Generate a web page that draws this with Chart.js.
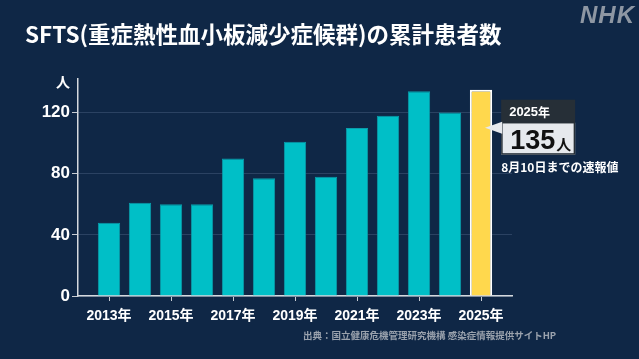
<!DOCTYPE html>
<html><head><meta charset="utf-8">
<script src="https://cdn.jsdelivr.net/npm/chart.js@4.4.1/dist/chart.umd.min.js"></script>
<style>
html,body{margin:0;padding:0;background:#0f2746;width:639px;height:359px;overflow:hidden;}
#wrap{position:relative;width:639px;height:359px;}
canvas{position:absolute;left:0;top:0;}
.t{position:absolute;white-space:nowrap;font-family:"Noto Sans CJK JP","Noto Sans",sans-serif;}
#title{left:25px;top:17px;font-size:22.5px;font-weight:700;color:#fff;line-height:32px;}
#nhk{right:4px;top:1px;font-family:"Liberation Sans",Arial,sans-serif;font-style:italic;font-weight:900;font-size:24px;color:#8e97a3;letter-spacing:1px;}
#src{left:303px;top:328px;font-size:9.5px;font-weight:700;color:#9aa2ad;}
</style></head>
<body><div id="wrap">
<canvas id="c" width="639" height="359"></canvas>
<div class="t" id="title">SFTS(重症熱性血小板減少症候群)の累計患者数</div>
<div class="t" id="nhk">NHK</div>
<div class="t" id="src">出典：国立健康危機管理研究機構 感染症情報提供サイトHP</div>
</div>
<script>
const years = [2013,2014,2015,2016,2017,2018,2019,2020,2021,2022,2023,2024,2025];
const patients = [48,61,60,60,90,77,101,78,110,118,134,120,135];
const xTickYears = [2013,2015,2017,2019,2021,2023,2025];
const yTickValues = [0,40,80,120];
const yUnit = '人';
const noteYear = '2025年';
const noteValue = '135';
const noteText = '8月10日までの速報値';

const teal = '#00bfc7', tealBorder = '#0a9cab', yellow = '#ffd84d';
const n = years.length;
const bg = years.map((y,i)=> i===n-1 ? yellow : teal);
const bc = years.map((y,i)=> i===n-1 ? '#ffffff' : tealBorder);
const bw = years.map((y,i)=> i===n-1 ? 2 : 1);

const calloutPlugin = {
  id:'callout',
  afterDatasetsDraw(chart){
    const ctx = chart.ctx;
    const yS = chart.scales.y, xS = chart.scales.x;
    ctx.save();
    ctx.fillStyle='#ffffff';
    ctx.font='700 14px "Noto Sans CJK JP"';
    ctx.textAlign='center'; ctx.textBaseline='middle';
    ctx.fillText(yUnit, xS.left-15, yS.top+3);
    const meta = chart.getDatasetMeta(0).data[n-1];
    const right = meta.x + meta.width/2;
    const bx = right + 9, by = meta.y + 10;
    const w = 74;
    ctx.fillStyle='#262f37';
    ctx.fillRect(bx, by, w, 23);
    ctx.fillStyle='#ffffff';
    ctx.font='700 13px "Liberation Sans","Noto Sans CJK JP"';
    ctx.textAlign='left';
    ctx.fillText(noteYear.replace('年',''), bx+8, by+12.5);
    const yw = ctx.measureText(noteYear.replace('年','')).width;
    ctx.font='700 12px "Noto Sans CJK JP"';
    ctx.fillText('年', bx+8+yw, by+12.5);
    const vy = by+23;
    ctx.fillStyle='#e6e9ed';
    ctx.fillRect(bx, vy, w, 32);
    ctx.strokeStyle='#262f37'; ctx.lineWidth=1.5;
    ctx.strokeRect(bx+0.75, vy, w-1.5, 31.25);
    ctx.beginPath();
    ctx.moveTo(bx+1, vy-1);
    ctx.lineTo(meta.x+4, vy+5);
    ctx.lineTo(bx+1, vy+11);
    ctx.closePath();
    ctx.fillStyle='#e6e9ed'; ctx.fill();
    ctx.fillStyle='#111111';
    ctx.font='700 27px "Liberation Sans",Arial';
    ctx.textBaseline='alphabetic';
    ctx.fillText(noteValue, bx+9, vy+26);
    const vw = ctx.measureText(noteValue).width;
    ctx.font='700 15px "Noto Sans CJK JP"';
    ctx.fillText(yUnit, bx+10+vw, vy+27);
    ctx.fillStyle='#ffffff';
    ctx.font='700 12px "Noto Sans CJK JP"';
    ctx.textBaseline='middle';
    ctx.fillText(noteText, bx, vy+45);
    ctx.restore();
  }
};

new Chart(document.getElementById('c'), {
  type:'bar',
  data:{datasets:[{
    data: years.map((y,i)=>({x:y, y:patients[i]})),
    backgroundColor:bg, borderColor:bc, borderWidth:bw,
    barPercentage:0.72, categoryPercentage:1.0
  }]},
  options:{
    responsive:false, animation:false,
    layout:{padding:{top:79,right:127,left:0,bottom:0}},
    plugins:{legend:{display:false},tooltip:{enabled:false}},
    scales:{
      x:{type:'linear',min:2012,max:2026,offset:false,
        afterFit(s){s.height=63;},
        afterBuildTicks(s){s.ticks = xTickYears.map(v=>({value:v}));},
        grid:{offset:false,drawOnChartArea:false,drawTicks:true,tickLength:5,tickColor:'#c8cdd3'},
        border:{color:'#d5d9de',width:1.5},
        ticks:{padding:7,color:'#ffffff',font:{family:'"Liberation Sans","Noto Sans CJK JP"',size:14,weight:'700'},
          callback:v=>v+'年',autoSkip:false,maxRotation:0}
      },
      y:{min:0,max:142,
        afterFit(s){s.width=78;},
        afterBuildTicks(s){s.ticks = yTickValues.map(v=>({value:v}));},
        grid:{color:'#2b4262',lineWidth:1,tickLength:6,tickColor:'#c8cdd3'},
        border:{color:'#d5d9de',width:1.5},
        ticks:{padding:2,color:'#ffffff',font:{family:'"Liberation Sans",Arial',size:17,weight:'700'}}
      }
    }
  },
  plugins:[calloutPlugin]
});
</script>
</body></html>
